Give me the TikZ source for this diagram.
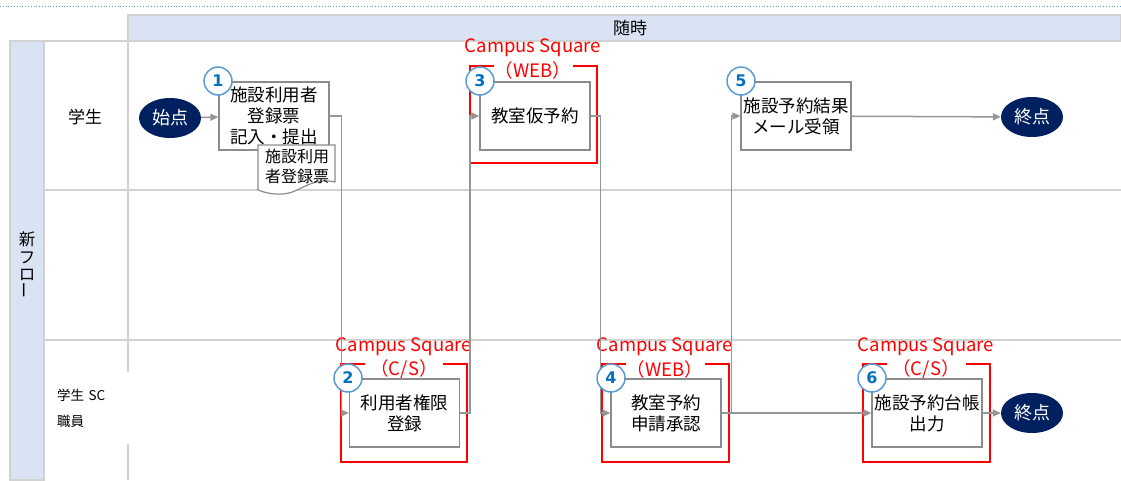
\documentclass[tikz,border=0pt]{standalone}
\usepackage{fontspec}
\setmainfont{Noto Sans CJK JP}
\newfontfamily\numfont{DejaVu Sans}
\usetikzlibrary{arrows.meta,shapes.geometric}

\tikzset{
  stepbox/.style={draw={rgb, 255:red, 140; green, 140; blue, 140}, line width=1.2pt, fill=white,
    minimum width=110pt, minimum height=68pt, inner sep=0pt, align=center,
    font=\fontsize{17.5}{21}\selectfont},
  terminal/.style={ellipse, fill={rgb, 255:red, 0; green, 32; blue, 96}, text=white,
    minimum width=62pt, minimum height=40pt, inner sep=0pt, font=\fontsize{18}{21}\selectfont},
  numcircle/.style={circle, draw={rgb, 255:red, 91; green, 155; blue, 213}, line width=1.5pt, fill=white,
    minimum size=28pt, inner sep=0pt, text={rgb, 255:red, 0; green, 112; blue, 192},
    font=\numfont\bfseries\fontsize{16}{16}\selectfont},
  flow/.style={color={rgb, 255:red, 150; green, 150; blue, 150}, line width=1.5pt,
    -{Triangle[length=8pt,width=7pt]}},
  redframe/.style={color={rgb, 255:red, 255; green, 0; blue, 0}, line width=1.2pt},
  cslabel/.style={text={rgb, 255:red, 255; green, 0; blue, 0}, inner sep=0pt,
    font=\fontsize{18.5}{18.5}\selectfont},
  gridline/.style={color={rgb, 255:red, 210; green, 210; blue, 210}, line width=1.5pt},
}

\begin{document}
\begin{tikzpicture}[x=1pt,y=1pt,yscale=-1,xscale=1]
\useasboundingbox (0,0) rectangle (1121,480);

%Straight Lines (dotted top rule)
\draw [color={rgb, 255:red, 91; green, 155; blue, 213}, line width=0.8pt, dotted] (0,6) -- (1121,6);

%Shape: Rectangle (header band)
\draw [gridline, fill={rgb, 255:red, 218; green, 227; blue, 243}] (128,15) rectangle (1121,41);
%Shape: Rectangle (flow column)
\draw [gridline, fill={rgb, 255:red, 218; green, 227; blue, 243}] (10,41) rectangle (44,480);
%Straight Lines (lanes)
\draw [gridline] (44,41) -- (1121,41);
\draw [gridline] (44,190) -- (1121,190);
\draw [gridline] (44,340) -- (1121,340);
\draw [gridline] (128,41) -- (128,480);

% Text Node
\node (hdr) at (630,28) {\fontsize{17}{17}\selectfont 随時};
% Text Node
\node [align=center, inner sep=0pt, font=\fontsize{16.5}{17.5}\selectfont] (flowname) at (27,265)
  {新\\フ\\ロ\\\rotatebox{90}{ー}};
% Text Node
\node [font=\fontsize{17}{17}\selectfont] (lane1) at (85,117) {学生};
% Text Node
\node [anchor=west, fill=white, text width=72pt, inner xsep=4pt, minimum height=72pt, align=left,
  font=\fontsize{13.5}{26}\selectfont] (lane3) at (53,408) {学生 SC\\職員};

%Shape: Red frames
\draw [redframe] (365,364) -- (341,364) -- (341,462) -- (467,462) -- (467,364) -- (443,364);
\draw [redframe] (494,66) -- (470,66) -- (470,163) -- (597,163) -- (597,66) -- (573,66);
\draw [redframe] (626,364) -- (602,364) -- (602,462) -- (729,462) -- (729,364) -- (705,364);
\draw [redframe] (887,364) -- (863,364) -- (863,462) -- (990,462) -- (990,364) -- (966,364);

% Text Node
\node [cslabel] (cs2) at (404,347) {Campus Square};
\node [cslabel] (sys2) at (404,369) {（C/S）};
\node [cslabel] (cs3) at (533,48) {Campus Square};
\node [cslabel] (sys3) at (533,70) {（WEB）};
\node [cslabel] (cs4) at (665,347) {Campus Square};
\node [cslabel] (sys4) at (665,369) {（WEB）};
\node [cslabel] (cs6) at (926,347) {Campus Square};
\node [cslabel] (sys6) at (926,369) {（C/S）};

%Shape: Ellipse
\node [terminal] (start) at (170,118) {始点};
\node [terminal] (end1) at (1032,117) {終点};
\node [terminal] (end2) at (1032,413) {終点};

%Shape: Rectangle
\node [stepbox] (b1) at (274,116) {施設利用者\\登録票\\記入・提出};
\node [stepbox] (b2) at (404.5,413) {利用者権限\\登録};
\node [stepbox] (b3) at (535,116) {教室仮予約};
\node [stepbox] (b4) at (666,413) {教室予約\\申請承認};
\node [stepbox] (b5) at (796,116) {施設予約結果\\メール受領};
\node [stepbox] (b6) at (927,413) {施設予約台帳\\出力};

%Shape: Document
\draw [draw={rgb, 255:red, 140; green, 140; blue, 140}, line width=1.2pt, fill=white]
  (258,145) -- (335,145) -- (335,182) .. controls (318,178) and (306,186) .. (297,190)
  .. controls (286,196) and (270,195) .. (258,190) -- cycle;
% Text Node
\node [align=center, inner sep=0pt, font=\fontsize{16}{20}\selectfont] (doc) at (297,166) {施設利用\\者登録票};

%Straight Lines (flow)
\draw [flow] (start) -- (b1);
\draw [flow] (b1.east) -- ++(12,0) |- (b2.west);
\draw [flow] (b2.east) -- ++(10,0) |- (b3.west);
\draw [flow] (b3.east) -- ++(10,0) |- (b4.west);
\draw [flow] (b4.east) -- ++(10,0) |- (b5.west);
\draw [flow] (b4) -- (b6);
\draw [flow] (b5) -- (end1);
\draw [flow] (b6) -- (end2);

%Shape: Circle (step numbers)
\node [numcircle] (n1) at (218,81) {1};
\node [numcircle] (n2) at (348,378) {2};
\node [numcircle] (n3) at (480,81) {3};
\node [numcircle] (n4) at (611,378) {4};
\node [numcircle] (n5) at (741,81) {5};
\node [numcircle] (n6) at (872,378) {6};
\end{tikzpicture}
\end{document}
